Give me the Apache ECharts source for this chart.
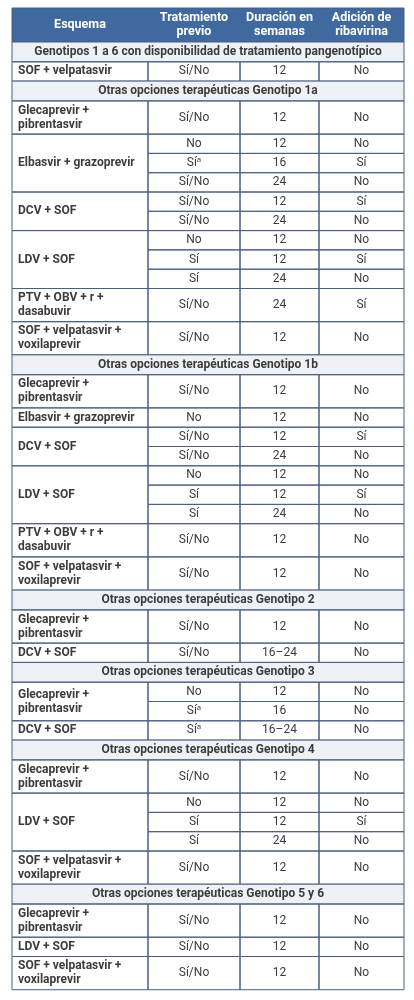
<!DOCTYPE html>
<html><head><meta charset="utf-8">
<script src="https://cdn.jsdelivr.net/npm/echarts@6/dist/echarts.min.js"></script>
<style>body{margin:0;background:#fff}#main{width:414px;height:1000px}</style>
</head><body><div id="main"></div>
<script>
// cabecera y secciones
const headers = [['Esquema'], ['Tratamiento', 'previo'], ['Duración en', 'semanas'], ['Adición de', 'ribavirina']]
const sectionTitles = [
  'Genotipos 1 a 6 con disponibilidad de tratamiento pangenotípico',
  'Otras opciones terapéuticas Genotipo 1a',
  'Otras opciones terapéuticas Genotipo 1b',
  'Otras opciones terapéuticas Genotipo 2',
  'Otras opciones terapéuticas Genotipo 3',
  'Otras opciones terapéuticas Genotipo 4',
  'Otras opciones terapéuticas Genotipo 5 y 6'
]
// esquemas: nombre (lineas), seccion
const schemeNames = [
  ['SOF + velpatasvir'],
  ['Glecaprevir +', 'pibrentasvir'], ['Elbasvir + grazoprevir'], ['DCV + SOF'], ['LDV + SOF'],
  ['PTV + OBV + r +', 'dasabuvir'], ['SOF + velpatasvir +', 'voxilaprevir'],
  ['Glecaprevir +', 'pibrentasvir'], ['Elbasvir + grazoprevir'], ['DCV + SOF'], ['LDV + SOF'],
  ['PTV + OBV + r +', 'dasabuvir'], ['SOF + velpatasvir +', 'voxilaprevir'],
  ['Glecaprevir +', 'pibrentasvir'], ['DCV + SOF'],
  ['Glecaprevir +', 'pibrentasvir'], ['DCV + SOF'],
  ['Glecaprevir +', 'pibrentasvir'], ['LDV + SOF'], ['SOF + velpatasvir +', 'voxilaprevir'],
  ['Glecaprevir +', 'pibrentasvir'], ['LDV + SOF'], ['SOF + velpatasvir +', 'voxilaprevir']
]
const schemeSection = [0, 1, 1, 1, 1, 1, 1, 2, 2, 2, 2, 2, 2, 3, 3, 4, 4, 5, 5, 5, 6, 6, 6]
// filas: esquema, tratamiento previo, duracion, ribavirina
const rowScheme = [0, 1, 2, 2, 2, 3, 3, 4, 4, 4, 5, 6, 7, 8, 9, 9, 10, 10, 10, 11, 12, 13, 14, 15, 15, 16, 17, 18, 18, 18, 19, 20, 21, 22]
const tratamiento = ['Sí/No', 'Sí/No', 'No', 'Síᵃ', 'Sí/No', 'Sí/No', 'Sí/No', 'No', 'Sí', 'Sí', 'Sí/No', 'Sí/No',
  'Sí/No', 'No', 'Sí/No', 'Sí/No', 'No', 'Sí', 'Sí', 'Sí/No', 'Sí/No',
  'Sí/No', 'Sí/No', 'No', 'Síᵃ', 'Síᵃ', 'Sí/No', 'No', 'Sí', 'Sí', 'Sí/No', 'Sí/No', 'Sí/No', 'Sí/No']
const duracion = ['12', '12', '12', '16', '24', '12', '24', '12', '12', '24', '24', '12',
  '12', '12', '12', '24', '12', '12', '24', '12', '12',
  '12', '16–24', '12', '16', '16–24', '12', '12', '12', '24', '12', '12', '12', '12']
const ribavirina = ['No', 'No', 'No', 'Sí', 'No', 'Sí', 'No', 'No', 'Sí', 'No', 'Sí', 'No',
  'No', 'No', 'Sí', 'No', 'No', 'Sí', 'No', 'No', 'No',
  'No', 'No', 'No', 'No', 'No', 'No', 'No', 'Sí', 'No', 'No', 'No', 'No', 'No']

const myChart = echarts.init(document.querySelector('#main'))

const X = [12, 148, 240, 319, 404]
const SUB = 19.3, TWO = 33.2, SEC = 19.8
const FONT = 'Roboto, "Noto Sans", sans-serif'
const LINE = '#4a5f7e'
const els = []

const txt = (x, y, s, bold, align, color, size) => ({
  type: 'text', x, y, silent: true,
  style: { text: s, font: `${bold ? 'bold ' : ''}${size || 12}px ${FONT}`, fill: color || '#3c3c3c', align: align || 'center', verticalAlign: 'middle' }
})
const rect = (x, y, w, h, fill) => ({
  type: 'rect', shape: { x, y, width: w, height: h }, silent: true,
  style: { fill: fill || 'none', stroke: LINE, lineWidth: 1 }
})

// cabecera
let y = 8
els.push(rect(X[0], y, X[4] - X[0], 34, '#40699f'))
headers.forEach((h, i) => {
  const cx = (X[i] + X[i + 1]) / 2
  h.forEach((s, k) => els.push(txt(cx, y + 17 + (k - (h.length - 1) / 2) * 14, s, true, 'center', '#fff', 12.5)))
})
y += 34

let lastSection = -1
schemeNames.forEach((name, si) => {
  const sec = schemeSection[si]
  if (sec !== lastSection) {
    els.push(rect(X[0], y, X[4] - X[0], SEC, '#eef1f6'))
    els.push(txt((X[0] + X[4]) / 2, y + SEC / 2, sectionTitles[sec], true, 'center', '#3c3c3c', 12))
    y += SEC
    lastSection = sec
  }
  const rows = rowScheme.map((s, i) => s === si ? i : -1).filter(i => i >= 0)
  const h = Math.max(rows.length * SUB, name.length > 1 ? TWO : SUB)
  const rh = h / rows.length
  els.push(rect(X[0], y, X[1] - X[0], h))
  name.forEach((s, k) => els.push(txt(X[0] + 6, y + h / 2 + (k - (name.length - 1) / 2) * 14, s, true, 'left')))
  rows.forEach((r, k) => {
    const ry = y + k * rh;
    [tratamiento[r], duracion[r], ribavirina[r]].forEach((v, c) => {
      els.push(rect(X[c + 1], ry, X[c + 2] - X[c + 1], rh))
      els.push(txt((X[c + 1] + X[c + 2]) / 2, ry + rh / 2, v, false))
    })
  })
  y += h
})

myChart.setOption({ animation: false, graphic: { elements: els } })
</script></body></html>
